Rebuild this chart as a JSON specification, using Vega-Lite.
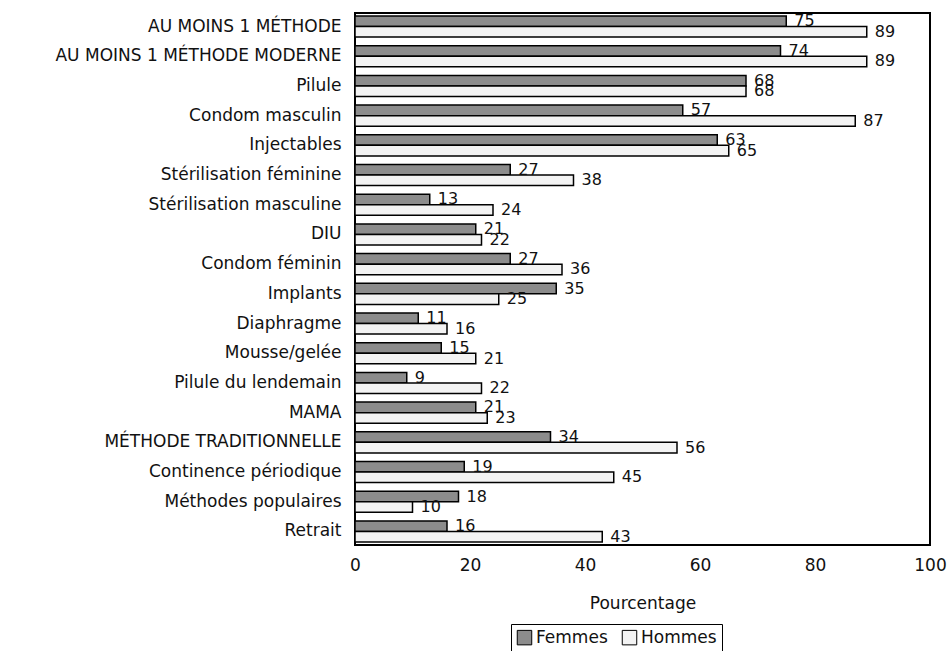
{
  "$schema": "https://vega.github.io/schema/vega-lite/v6.json",
  "autosize": {"type": "none"},
  "width": 575,
  "height": 532,
  "padding": {"left": 355, "top": 13, "right": 18, "bottom": 106},
  "background": "white",
  "config": {
    "view": {"stroke": "black", "strokeWidth": 2},
    "font": "DejaVu Sans",
    "axis": {"labelColor": "#111", "titleColor": "#111", "labelFont": "DejaVu Sans", "titleFont": "DejaVu Sans", "titleFontWeight": "normal"}
  },
  "data": {
    "values": [
      {"Methode": "AU MOINS 1 MÉTHODE", "Sexe": "Femmes", "Pct": 75},
      {"Methode": "AU MOINS 1 MÉTHODE", "Sexe": "Hommes", "Pct": 89},
      {"Methode": "AU MOINS 1 MÉTHODE MODERNE", "Sexe": "Femmes", "Pct": 74},
      {"Methode": "AU MOINS 1 MÉTHODE MODERNE", "Sexe": "Hommes", "Pct": 89},
      {"Methode": "Pilule", "Sexe": "Femmes", "Pct": 68},
      {"Methode": "Pilule", "Sexe": "Hommes", "Pct": 68},
      {"Methode": "Condom masculin", "Sexe": "Femmes", "Pct": 57},
      {"Methode": "Condom masculin", "Sexe": "Hommes", "Pct": 87},
      {"Methode": "Injectables", "Sexe": "Femmes", "Pct": 63},
      {"Methode": "Injectables", "Sexe": "Hommes", "Pct": 65},
      {"Methode": "Stérilisation féminine", "Sexe": "Femmes", "Pct": 27},
      {"Methode": "Stérilisation féminine", "Sexe": "Hommes", "Pct": 38},
      {"Methode": "Stérilisation masculine", "Sexe": "Femmes", "Pct": 13},
      {"Methode": "Stérilisation masculine", "Sexe": "Hommes", "Pct": 24},
      {"Methode": "DIU", "Sexe": "Femmes", "Pct": 21},
      {"Methode": "DIU", "Sexe": "Hommes", "Pct": 22},
      {"Methode": "Condom féminin", "Sexe": "Femmes", "Pct": 27},
      {"Methode": "Condom féminin", "Sexe": "Hommes", "Pct": 36},
      {"Methode": "Implants", "Sexe": "Femmes", "Pct": 35},
      {"Methode": "Implants", "Sexe": "Hommes", "Pct": 25},
      {"Methode": "Diaphragme", "Sexe": "Femmes", "Pct": 11},
      {"Methode": "Diaphragme", "Sexe": "Hommes", "Pct": 16},
      {"Methode": "Mousse/gelée", "Sexe": "Femmes", "Pct": 15},
      {"Methode": "Mousse/gelée", "Sexe": "Hommes", "Pct": 21},
      {"Methode": "Pilule du lendemain", "Sexe": "Femmes", "Pct": 9},
      {"Methode": "Pilule du lendemain", "Sexe": "Hommes", "Pct": 22},
      {"Methode": "MAMA", "Sexe": "Femmes", "Pct": 21},
      {"Methode": "MAMA", "Sexe": "Hommes", "Pct": 23},
      {"Methode": "MÉTHODE TRADITIONNELLE", "Sexe": "Femmes", "Pct": 34},
      {"Methode": "MÉTHODE TRADITIONNELLE", "Sexe": "Hommes", "Pct": 56},
      {"Methode": "Continence périodique", "Sexe": "Femmes", "Pct": 19},
      {"Methode": "Continence périodique", "Sexe": "Hommes", "Pct": 45},
      {"Methode": "Méthodes populaires", "Sexe": "Femmes", "Pct": 18},
      {"Methode": "Méthodes populaires", "Sexe": "Hommes", "Pct": 10},
      {"Methode": "Retrait", "Sexe": "Femmes", "Pct": 16},
      {"Methode": "Retrait", "Sexe": "Hommes", "Pct": 43}
    ]
  },
  "encoding": {
    "y": {
      "field": "Methode", "type": "nominal", "sort": null,
      "scale": {"paddingInner": 0.29, "paddingOuter": 0.1},
      "axis": {"title": null, "ticks": false, "domain": false, "labelPadding": 14, "labelFontSize": 17, "labelLimit": 400}
    },
    "yOffset": {"field": "Sexe", "type": "nominal", "sort": ["Femmes", "Hommes"], "scale": {"paddingInner": 0, "paddingOuter": 0}},
    "x": {
      "field": "Pct", "type": "quantitative",
      "scale": {"domain": [0, 100], "nice": false},
      "axis": {"title": "Pourcentage", "values": [0, 20, 40, 60, 80, 100], "ticks": false, "domain": false, "grid": false, "labelFlush": false, "labelFontSize": 17, "labelPadding": 12, "titleFontSize": 17, "titlePadding": 22}
    }
  },
  "layer": [
    {
      "mark": {"type": "bar", "stroke": "black", "strokeWidth": 1.5},
      "encoding": {
        "fill": {
          "field": "Sexe", "type": "nominal",
          "scale": {"domain": ["Femmes", "Hommes"], "range": ["#8c8c8c", "#f3f3f3"]},
          "legend": {
            "title": null, "orient": "none", "legendX": 156, "legendY": 611, "direction": "horizontal",
            "strokeColor": "black", "padding": 5, "symbolType": "square", "symbolSize": 210,
            "symbolStrokeColor": "black", "symbolStrokeWidth": 1, "labelFontSize": 17, "labelFont": "DejaVu Sans",
            "labelColor": "#111", "columnPadding": 12, "labelOffset": 3, "fillColor": "white",
            "labelExpr": "datum.label == 'Hommes' ? 'Hommes\u00a0\u00a0\u00a0\u00a0\u00a0\u00a0\u00a0' : datum.label"
          }
        }
      }
    },
    {
      "mark": {"type": "text", "align": "left", "baseline": "middle", "dx": 8, "fontSize": 16, "color": "#111"},
      "encoding": {"text": {"field": "Pct", "type": "quantitative"}}
    }
  ]
}
